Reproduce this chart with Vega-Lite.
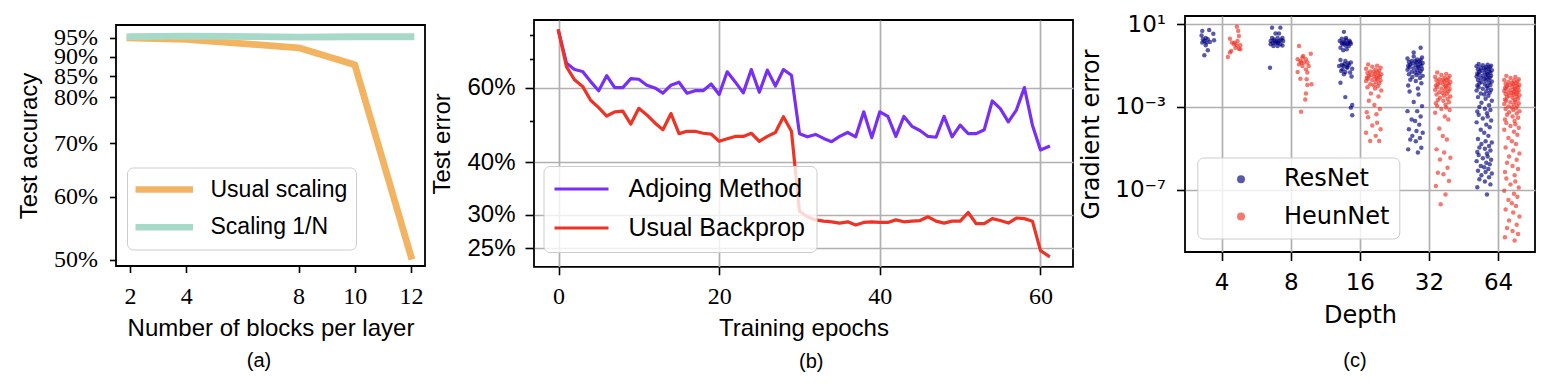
{
"$schema":"https://vega.github.io/schema/vega-lite/v6.json",
"background":"white",
"padding":{"left":16,"top":0,"right":0,"bottom":0},
"spacing":4,
"resolve":{"scale":{"color":"independent"},"legend":{"color":"independent"}},
"config":{
 "view":{"stroke":"black","strokeWidth":1.8},
 "axis":{"domain":false,"grid":false,"tickColor":"black","tickWidth":1.6,"labelColor":"black","titleColor":"black","titleFontWeight":"normal","labelFlush":false,"labelOverlap":false,"labelBound":false,"gridColor":"#b0b0b0","gridWidth":1.7}
},
"datasets":{
 "a_usual":[{"blocks":2,"acc":95.0},{"blocks":4,"acc":94.6},{"blocks":8,"acc":92.3},{"blocks":10,"acc":87.9},{"blocks":12,"acc":50.5}],
 "a_scaled":[{"blocks":2,"acc":95.3},{"blocks":4,"acc":95.5},{"blocks":8,"acc":95.2},{"blocks":10,"acc":95.3},{"blocks":12,"acc":95.3}],
 "b_adj":[{"epoch":0,"err":81.7},{"epoch":1,"err":68.5},{"epoch":2,"err":66.2},{"epoch":3,"err":65.5},{"epoch":4,"err":62},{"epoch":5,"err":59},{"epoch":6,"err":64},{"epoch":7,"err":60},{"epoch":8,"err":60},{"epoch":9,"err":63},{"epoch":10,"err":62.8},{"epoch":11,"err":60.8},{"epoch":12,"err":59.9},{"epoch":13,"err":58.2},{"epoch":14,"err":60.8},{"epoch":15,"err":61.8},{"epoch":16,"err":58.2},{"epoch":17,"err":59},{"epoch":18,"err":59},{"epoch":19,"err":61.2},{"epoch":20,"err":57.8},{"epoch":21,"err":65.4},{"epoch":22,"err":61.9},{"epoch":23,"err":58.3},{"epoch":24,"err":66.2},{"epoch":25,"err":58.5},{"epoch":26,"err":66},{"epoch":27,"err":60.5},{"epoch":28,"err":66.2},{"epoch":29,"err":64.2},{"epoch":30,"err":46.7},{"epoch":31,"err":45.9},{"epoch":32,"err":46.5},{"epoch":33,"err":45.5},{"epoch":34,"err":44.7},{"epoch":35,"err":46},{"epoch":36,"err":47},{"epoch":37,"err":45.9},{"epoch":38,"err":52.6},{"epoch":39,"err":45.7},{"epoch":40,"err":52.6},{"epoch":41,"err":51.3},{"epoch":42,"err":46},{"epoch":43,"err":51.3},{"epoch":44,"err":48.6},{"epoch":45,"err":47.5},{"epoch":46,"err":46},{"epoch":47,"err":45.8},{"epoch":48,"err":51.3},{"epoch":49,"err":45.9},{"epoch":50,"err":48.9},{"epoch":51,"err":46.7},{"epoch":52,"err":46.7},{"epoch":53,"err":47.7},{"epoch":54,"err":55.8},{"epoch":55,"err":53.5},{"epoch":56,"err":49.8},{"epoch":57,"err":53.1},{"epoch":58,"err":60},{"epoch":59,"err":48.9},{"epoch":60,"err":42.7},{"epoch":61,"err":43.5}],
 "b_bp":[{"epoch":0,"err":81.7},{"epoch":1,"err":67.2},{"epoch":2,"err":62.6},{"epoch":3,"err":60.4},{"epoch":4,"err":56},{"epoch":5,"err":53.8},{"epoch":6,"err":51.4},{"epoch":7,"err":52.6},{"epoch":8,"err":52.8},{"epoch":9,"err":49.2},{"epoch":10,"err":53.6},{"epoch":11,"err":51.7},{"epoch":12,"err":49.5},{"epoch":13,"err":47.7},{"epoch":14,"err":52.1},{"epoch":15,"err":46.7},{"epoch":16,"err":47.3},{"epoch":17,"err":47.3},{"epoch":18,"err":46.8},{"epoch":19,"err":46.6},{"epoch":20,"err":44.8},{"epoch":21,"err":45.4},{"epoch":22,"err":46},{"epoch":23,"err":46},{"epoch":24,"err":46.8},{"epoch":25,"err":44.8},{"epoch":26,"err":46},{"epoch":27,"err":47},{"epoch":28,"err":51.2},{"epoch":29,"err":47.3},{"epoch":30,"err":30.6},{"epoch":31,"err":29.7},{"epoch":32,"err":29.2},{"epoch":33,"err":29.0},{"epoch":34,"err":28.9},{"epoch":35,"err":28.7},{"epoch":36,"err":28.9},{"epoch":37,"err":28.4},{"epoch":38,"err":28.8},{"epoch":39,"err":28.9},{"epoch":40,"err":28.8},{"epoch":41,"err":28.8},{"epoch":42,"err":29.2},{"epoch":43,"err":28.9},{"epoch":44,"err":29.0},{"epoch":45,"err":29.1},{"epoch":46,"err":29.7},{"epoch":47,"err":29.0},{"epoch":48,"err":28.7},{"epoch":49,"err":29.0},{"epoch":50,"err":29.0},{"epoch":51,"err":30.4},{"epoch":52,"err":28.6},{"epoch":53,"err":28.6},{"epoch":54,"err":29.4},{"epoch":55,"err":29.1},{"epoch":56,"err":28.7},{"epoch":57,"err":29.5},{"epoch":58,"err":29.4},{"epoch":59,"err":29.0},{"epoch":60,"err":24.7},{"epoch":61,"err":24.0}],
 "c_res":[
{"depth":4,"pos":1.72,"err":4.8},{"depth":4,"pos":1.82,"err":5.3},{"depth":4,"pos":1.88,"err":3.5},{"depth":4,"pos":1.71,"err":2.9},{"depth":4,"pos":1.77,"err":2.2},{"depth":4,"pos":1.73,"err":1.9},{"depth":4,"pos":1.8,"err":1.9},{"depth":4,"pos":1.89,"err":1.7},{"depth":4,"pos":1.72,"err":1.3},{"depth":4,"pos":1.78,"err":1.3},{"depth":4,"pos":1.83,"err":1.4},{"depth":4,"pos":1.77,"err":0.96},{"depth":4,"pos":1.8,"err":0.55},{"depth":4,"pos":1.75,"err":0.32},{"depth":4,"pos":1.75,"err":1.55},
{"depth":8,"pos":2.73,"err":6.9},{"depth":8,"pos":2.85,"err":6.9},{"depth":8,"pos":2.78,"err":3.6},{"depth":8,"pos":2.83,"err":3.6},{"depth":8,"pos":2.73,"err":2.2},{"depth":8,"pos":2.81,"err":2.2},{"depth":8,"pos":2.88,"err":2.2},{"depth":8,"pos":2.71,"err":1.55},{"depth":8,"pos":2.77,"err":1.55},{"depth":8,"pos":2.83,"err":1.55},{"depth":8,"pos":2.89,"err":1.55},{"depth":8,"pos":2.71,"err":1.07},{"depth":8,"pos":2.78,"err":1.2},{"depth":8,"pos":2.85,"err":1.07},{"depth":8,"pos":2.81,"err":0.89},{"depth":8,"pos":2.75,"err":0.89},{"depth":8,"pos":2.88,"err":0.95},{"depth":8,"pos":2.7,"err":0.079},{"depth":8,"pos":2.76,"err":1.86},{"depth":8,"pos":2.82,"err":1.29},{"depth":8,"pos":2.8,"err":1.4},{"depth":8,"pos":2.86,"err":1.8},{"depth":8,"pos":2.74,"err":1.3},
{"depth":16,"pos":3.77,"err":4.3},{"depth":16,"pos":3.71,"err":1.55},{"depth":16,"pos":3.77,"err":1.41},{"depth":16,"pos":3.83,"err":1.29},{"depth":16,"pos":3.87,"err":1.15},{"depth":16,"pos":3.75,"err":1.07},{"depth":16,"pos":3.79,"err":0.95},{"depth":16,"pos":3.84,"err":0.89},{"depth":16,"pos":3.72,"err":0.74},{"depth":16,"pos":3.81,"err":0.62},{"depth":16,"pos":3.76,"err":0.55},{"depth":16,"pos":3.72,"err":0.186},{"depth":16,"pos":3.79,"err":0.17},{"depth":16,"pos":3.87,"err":0.141},{"depth":16,"pos":3.7,"err":0.095},{"depth":16,"pos":3.76,"err":0.095},{"depth":16,"pos":3.82,"err":0.079},{"depth":16,"pos":3.89,"err":0.071},{"depth":16,"pos":3.73,"err":0.055},{"depth":16,"pos":3.79,"err":0.049},{"depth":16,"pos":3.86,"err":0.046},{"depth":16,"pos":3.77,"err":0.038},{"depth":16,"pos":3.88,"err":0.03},{"depth":16,"pos":3.72,"err":0.015},{"depth":16,"pos":3.79,"err":0.003},{"depth":16,"pos":3.89,"err":0.00126},{"depth":16,"pos":3.87,"err":0.00093},{"depth":16,"pos":3.89,"err":0.0004},{"depth":16,"pos":3.75,"err":0.066},{"depth":16,"pos":3.84,"err":0.105},{"depth":16,"pos":3.74,"err":2.0},{"depth":16,"pos":3.8,"err":1.8},{"depth":16,"pos":3.85,"err":1.6},{"depth":16,"pos":3.78,"err":1.2},{"depth":16,"pos":3.82,"err":1.1},{"depth":16,"pos":3.74,"err":1.25},{"depth":16,"pos":3.86,"err":1.35},{"depth":16,"pos":3.8,"err":2.2},{"depth":16,"pos":3.78,"err":0.12},{"depth":16,"pos":3.83,"err":0.13},{"depth":16,"pos":3.74,"err":0.11},{"depth":16,"pos":3.81,"err":0.085},
{"depth":32,"pos":4.88,"err":0.74},{"depth":32,"pos":4.78,"err":0.43},{"depth":32,"pos":4.78,"err":0.28},{"depth":32,"pos":4.9,"err":0.25},{"depth":32,"pos":4.69,"err":0.22},{"depth":32,"pos":4.83,"err":0.2},{"depth":32,"pos":4.88,"err":0.19},{"depth":32,"pos":4.75,"err":0.17},{"depth":32,"pos":4.8,"err":0.166},{"depth":32,"pos":4.86,"err":0.158},{"depth":32,"pos":4.71,"err":0.151},{"depth":32,"pos":4.82,"err":0.141},{"depth":32,"pos":4.91,"err":0.135},{"depth":32,"pos":4.76,"err":0.126},{"depth":32,"pos":4.87,"err":0.12},{"depth":32,"pos":4.73,"err":0.112},{"depth":32,"pos":4.81,"err":0.107},{"depth":32,"pos":4.89,"err":0.1},{"depth":32,"pos":4.7,"err":0.095},{"depth":32,"pos":4.84,"err":0.089},
{"depth":32,"pos":4.72,"err":0.083},{"depth":32,"pos":4.85,"err":0.079},{"depth":32,"pos":4.78,"err":0.074},{"depth":32,"pos":4.9,"err":0.069},{"depth":32,"pos":4.69,"err":0.063},{"depth":32,"pos":4.83,"err":0.059},{"depth":32,"pos":4.88,"err":0.054},{"depth":32,"pos":4.75,"err":0.05},{"depth":32,"pos":4.8,"err":0.046},{"depth":32,"pos":4.86,"err":0.042},{"depth":32,"pos":4.71,"err":0.038},{"depth":32,"pos":4.82,"err":0.035},{"depth":32,"pos":4.91,"err":0.032},{"depth":32,"pos":4.76,"err":0.028},{"depth":32,"pos":4.87,"err":0.025},{"depth":32,"pos":4.73,"err":0.021},{"depth":32,"pos":4.81,"err":0.018},{"depth":32,"pos":4.89,"err":0.014},{"depth":32,"pos":4.7,"err":0.011},{"depth":32,"pos":4.84,"err":0.0079},
{"depth":32,"pos":4.72,"err":0.0056},{"depth":32,"pos":4.85,"err":0.004},{"depth":32,"pos":4.78,"err":0.00174},{"depth":32,"pos":4.9,"err":0.0011},{"depth":32,"pos":4.69,"err":0.00063},{"depth":32,"pos":4.83,"err":0.00063},{"depth":32,"pos":4.88,"err":0.00035},{"depth":32,"pos":4.75,"err":0.00025},{"depth":32,"pos":4.8,"err":0.00021},{"depth":32,"pos":4.86,"err":0.00014},{"depth":32,"pos":4.71,"err":8.3e-5},{"depth":32,"pos":4.82,"err":6.9e-5},{"depth":32,"pos":4.91,"err":5.6e-5},{"depth":32,"pos":4.76,"err":4e-5},{"depth":32,"pos":4.87,"err":3.2e-5},{"depth":32,"pos":4.73,"err":2.7e-5},{"depth":32,"pos":4.81,"err":2.2e-5},{"depth":32,"pos":4.89,"err":1.07e-5},{"depth":32,"pos":4.7,"err":8.9e-6},{"depth":32,"pos":4.84,"err":6.3e-6},
{"depth":64,"pos":5.72,"err":0.12},{"depth":64,"pos":5.85,"err":0.112},{"depth":64,"pos":5.78,"err":0.105},{"depth":64,"pos":5.9,"err":0.1},{"depth":64,"pos":5.69,"err":0.093},{"depth":64,"pos":5.83,"err":0.087},{"depth":64,"pos":5.88,"err":0.083},{"depth":64,"pos":5.75,"err":0.079},{"depth":64,"pos":5.8,"err":0.074},{"depth":64,"pos":5.86,"err":0.071},{"depth":64,"pos":5.71,"err":0.066},{"depth":64,"pos":5.82,"err":0.063},{"depth":64,"pos":5.91,"err":0.06},{"depth":64,"pos":5.76,"err":0.056},{"depth":64,"pos":5.87,"err":0.052},{"depth":64,"pos":5.73,"err":0.05},{"depth":64,"pos":5.81,"err":0.047},{"depth":64,"pos":5.89,"err":0.045},{"depth":64,"pos":5.7,"err":0.042},{"depth":64,"pos":5.84,"err":0.04},
{"depth":64,"pos":5.72,"err":0.037},{"depth":64,"pos":5.85,"err":0.035},{"depth":64,"pos":5.78,"err":0.033},{"depth":64,"pos":5.9,"err":0.032},{"depth":64,"pos":5.69,"err":0.03},{"depth":64,"pos":5.83,"err":0.028},{"depth":64,"pos":5.88,"err":0.026},{"depth":64,"pos":5.75,"err":0.025},{"depth":64,"pos":5.8,"err":0.023},{"depth":64,"pos":5.86,"err":0.022},{"depth":64,"pos":5.71,"err":0.02},{"depth":64,"pos":5.82,"err":0.019},{"depth":64,"pos":5.91,"err":0.017},{"depth":64,"pos":5.76,"err":0.016},{"depth":64,"pos":5.87,"err":0.015},{"depth":64,"pos":5.73,"err":0.014},{"depth":64,"pos":5.81,"err":0.0126},{"depth":64,"pos":5.89,"err":0.0117},{"depth":64,"pos":5.7,"err":0.011},{"depth":64,"pos":5.84,"err":0.01},
{"depth":64,"pos":5.72,"err":0.0091},{"depth":64,"pos":5.85,"err":0.0083},{"depth":64,"pos":5.78,"err":0.0076},{"depth":64,"pos":5.9,"err":0.0069},{"depth":64,"pos":5.69,"err":0.0063},{"depth":64,"pos":5.83,"err":0.0056},{"depth":64,"pos":5.88,"err":0.005},{"depth":64,"pos":5.75,"err":0.0045},{"depth":64,"pos":5.8,"err":0.004},{"depth":64,"pos":5.86,"err":0.0035},{"depth":64,"pos":5.71,"err":0.003},{"depth":64,"pos":5.82,"err":0.0025},{"depth":64,"pos":5.91,"err":0.002},{"depth":64,"pos":5.76,"err":0.0016},{"depth":64,"pos":5.87,"err":0.0012},{"depth":64,"pos":5.73,"err":0.001},{"depth":64,"pos":5.81,"err":0.00083},{"depth":64,"pos":5.89,"err":0.00071},{"depth":64,"pos":5.7,"err":0.0006},{"depth":64,"pos":5.84,"err":0.0005},
{"depth":64,"pos":5.72,"err":0.00042},{"depth":64,"pos":5.85,"err":0.00035},{"depth":64,"pos":5.78,"err":0.00028},{"depth":64,"pos":5.9,"err":0.00022},{"depth":64,"pos":5.69,"err":0.00018},{"depth":64,"pos":5.83,"err":0.00014},{"depth":64,"pos":5.88,"err":0.000105},{"depth":64,"pos":5.75,"err":7.9e-5},{"depth":64,"pos":5.8,"err":5.6e-5},{"depth":64,"pos":5.86,"err":4e-5},{"depth":64,"pos":5.71,"err":2.8e-5},{"depth":64,"pos":5.82,"err":2.2e-5},{"depth":64,"pos":5.91,"err":1.9e-5},{"depth":64,"pos":5.76,"err":1.6e-5},{"depth":64,"pos":5.87,"err":1.3e-5},{"depth":64,"pos":5.73,"err":1.1e-5},{"depth":64,"pos":5.81,"err":9.5e-6},{"depth":64,"pos":5.89,"err":7.9e-6},{"depth":64,"pos":5.7,"err":6.6e-6},{"depth":64,"pos":5.84,"err":5.6e-6},
{"depth":64,"pos":5.72,"err":4.8e-6},{"depth":64,"pos":5.85,"err":4e-6},{"depth":64,"pos":5.78,"err":3.3e-6},{"depth":64,"pos":5.9,"err":2.8e-6},{"depth":64,"pos":5.69,"err":2.4e-6},{"depth":64,"pos":5.83,"err":2e-6},{"depth":64,"pos":5.88,"err":1.7e-6},{"depth":64,"pos":5.75,"err":1.4e-6},{"depth":64,"pos":5.8,"err":1.2e-6},{"depth":64,"pos":5.86,"err":1e-6},{"depth":64,"pos":5.71,"err":8.3e-7},{"depth":64,"pos":5.82,"err":7.1e-7},{"depth":64,"pos":5.91,"err":6e-7},{"depth":64,"pos":5.76,"err":5e-7},{"depth":64,"pos":5.87,"err":4e-7},{"depth":64,"pos":5.73,"err":3.2e-7},{"depth":64,"pos":5.81,"err":2.5e-7},{"depth":64,"pos":5.89,"err":1.8e-7},{"depth":64,"pos":5.7,"err":1.3e-7},{"depth":64,"pos":5.84,"err":5.9e-8}
 ],
 "c_heun":[
{"depth":4,"pos":2.22,"err":7.7},{"depth":4,"pos":2.24,"err":4.8},{"depth":4,"pos":2.12,"err":2.0},{"depth":4,"pos":2.25,"err":2.7},{"depth":4,"pos":2.15,"err":1.3},{"depth":4,"pos":2.18,"err":1.07},{"depth":4,"pos":2.22,"err":0.96},{"depth":4,"pos":2.27,"err":0.96},{"depth":4,"pos":2.2,"err":0.74},{"depth":4,"pos":2.25,"err":0.66},{"depth":4,"pos":2.27,"err":0.62},{"depth":4,"pos":2.14,"err":0.51},{"depth":4,"pos":2.09,"err":0.26},{"depth":4,"pos":2.12,"err":0.43},{"depth":4,"pos":2.23,"err":1.55},{"depth":4,"pos":2.19,"err":1.3},
{"depth":8,"pos":3.12,"err":0.89},{"depth":8,"pos":3.29,"err":0.38},{"depth":8,"pos":3.17,"err":0.245},{"depth":8,"pos":3.1,"err":0.204},{"depth":8,"pos":3.22,"err":0.204},{"depth":8,"pos":3.14,"err":0.17},{"depth":8,"pos":3.19,"err":0.141},{"depth":8,"pos":3.24,"err":0.141},{"depth":8,"pos":3.12,"err":0.115},{"depth":8,"pos":3.17,"err":0.095},{"depth":8,"pos":3.26,"err":0.095},{"depth":8,"pos":3.22,"err":0.066},{"depth":8,"pos":3.1,"err":0.049},{"depth":8,"pos":3.24,"err":0.046},{"depth":8,"pos":3.14,"err":0.023},{"depth":8,"pos":3.23,"err":0.022},{"depth":8,"pos":3.3,"err":0.0126},{"depth":8,"pos":3.24,"err":0.0115},{"depth":8,"pos":3.22,"err":0.0045},{"depth":8,"pos":3.21,"err":0.0023},{"depth":8,"pos":3.15,"err":0.00059},{"depth":8,"pos":3.18,"err":0.295},{"depth":8,"pos":3.15,"err":0.141},
{"depth":16,"pos":4.12,"err":0.115},{"depth":16,"pos":4.25,"err":0.1},{"depth":16,"pos":4.18,"err":0.089},{"depth":16,"pos":4.3,"err":0.079},{"depth":16,"pos":4.09,"err":0.071},{"depth":16,"pos":4.23,"err":0.063},{"depth":16,"pos":4.28,"err":0.056},{"depth":16,"pos":4.15,"err":0.052},{"depth":16,"pos":4.2,"err":0.05},{"depth":16,"pos":4.26,"err":0.047},{"depth":16,"pos":4.11,"err":0.044},{"depth":16,"pos":4.22,"err":0.04},{"depth":16,"pos":4.31,"err":0.038},{"depth":16,"pos":4.16,"err":0.035},{"depth":16,"pos":4.27,"err":0.033},{"depth":16,"pos":4.13,"err":0.032},{"depth":16,"pos":4.21,"err":0.03},{"depth":16,"pos":4.29,"err":0.028},{"depth":16,"pos":4.1,"err":0.026},{"depth":16,"pos":4.24,"err":0.025},
{"depth":16,"pos":4.12,"err":0.023},{"depth":16,"pos":4.25,"err":0.022},{"depth":16,"pos":4.18,"err":0.02},{"depth":16,"pos":4.3,"err":0.019},{"depth":16,"pos":4.09,"err":0.018},{"depth":16,"pos":4.23,"err":0.016},{"depth":16,"pos":4.28,"err":0.014},{"depth":16,"pos":4.15,"err":0.0126},{"depth":16,"pos":4.2,"err":0.0112},{"depth":16,"pos":4.26,"err":0.01},{"depth":16,"pos":4.11,"err":0.0089},{"depth":16,"pos":4.22,"err":0.0079},{"depth":16,"pos":4.31,"err":0.0063},{"depth":16,"pos":4.16,"err":0.0045},{"depth":16,"pos":4.27,"err":0.0032},{"depth":16,"pos":4.13,"err":0.002},{"depth":16,"pos":4.21,"err":0.00126},{"depth":16,"pos":4.29,"err":0.00079},{"depth":16,"pos":4.1,"err":0.00056},{"depth":16,"pos":4.24,"err":0.00045},
{"depth":16,"pos":4.12,"err":0.00032},{"depth":16,"pos":4.25,"err":0.000174},{"depth":16,"pos":4.18,"err":0.000126},{"depth":16,"pos":4.3,"err":8.3e-5},{"depth":16,"pos":4.09,"err":5.6e-5},{"depth":16,"pos":4.23,"err":4e-5},{"depth":16,"pos":4.15,"err":2.24e-5},{"depth":16,"pos":4.28,"err":2.24e-5},
{"depth":32,"pos":5.12,"err":0.046},{"depth":32,"pos":5.25,"err":0.04},{"depth":32,"pos":5.18,"err":0.035},{"depth":32,"pos":5.3,"err":0.032},{"depth":32,"pos":5.09,"err":0.028},{"depth":32,"pos":5.23,"err":0.026},{"depth":32,"pos":5.28,"err":0.024},{"depth":32,"pos":5.15,"err":0.022},{"depth":32,"pos":5.2,"err":0.021},{"depth":32,"pos":5.26,"err":0.02},{"depth":32,"pos":5.11,"err":0.019},{"depth":32,"pos":5.22,"err":0.017},{"depth":32,"pos":5.31,"err":0.016},{"depth":32,"pos":5.16,"err":0.015},{"depth":32,"pos":5.27,"err":0.014},{"depth":32,"pos":5.13,"err":0.013},{"depth":32,"pos":5.21,"err":0.0126},{"depth":32,"pos":5.29,"err":0.0117},{"depth":32,"pos":5.1,"err":0.011},{"depth":32,"pos":5.24,"err":0.01},
{"depth":32,"pos":5.12,"err":0.0093},{"depth":32,"pos":5.25,"err":0.0087},{"depth":32,"pos":5.18,"err":0.0079},{"depth":32,"pos":5.3,"err":0.0074},{"depth":32,"pos":5.09,"err":0.0069},{"depth":32,"pos":5.23,"err":0.0063},{"depth":32,"pos":5.28,"err":0.0058},{"depth":32,"pos":5.15,"err":0.0052},{"depth":32,"pos":5.2,"err":0.0048},{"depth":32,"pos":5.26,"err":0.0044},{"depth":32,"pos":5.11,"err":0.004},{"depth":32,"pos":5.22,"err":0.0035},{"depth":32,"pos":5.31,"err":0.0032},{"depth":32,"pos":5.16,"err":0.0028},{"depth":32,"pos":5.27,"err":0.0025},{"depth":32,"pos":5.13,"err":0.0022},{"depth":32,"pos":5.21,"err":0.002},{"depth":32,"pos":5.29,"err":0.0017},{"depth":32,"pos":5.1,"err":0.0015},{"depth":32,"pos":5.24,"err":0.0013},
{"depth":32,"pos":5.12,"err":0.0011},{"depth":32,"pos":5.25,"err":0.00095},{"depth":32,"pos":5.18,"err":0.00079},{"depth":32,"pos":5.3,"err":0.00071},{"depth":32,"pos":5.09,"err":0.00052},{"depth":32,"pos":5.23,"err":0.00035},{"depth":32,"pos":5.28,"err":0.00025},{"depth":32,"pos":5.15,"err":9.1e-5},{"depth":32,"pos":5.2,"err":3.9e-5},{"depth":32,"pos":5.26,"err":2.7e-5},{"depth":32,"pos":5.11,"err":8.9e-6},{"depth":32,"pos":5.22,"err":6.3e-6},{"depth":32,"pos":5.31,"err":3.5e-6},{"depth":32,"pos":5.16,"err":2.9e-6},{"depth":32,"pos":5.27,"err":1.15e-6},{"depth":32,"pos":5.13,"err":6.6e-7},{"depth":32,"pos":5.21,"err":5.5e-7},{"depth":32,"pos":5.29,"err":2.6e-7},{"depth":32,"pos":5.1,"err":1.5e-7},{"depth":32,"pos":5.24,"err":5.9e-8},{"depth":32,"pos":5.17,"err":1.95e-8},
{"depth":64,"pos":6.12,"err":0.032},{"depth":64,"pos":6.25,"err":0.028},{"depth":64,"pos":6.18,"err":0.025},{"depth":64,"pos":6.3,"err":0.022},{"depth":64,"pos":6.09,"err":0.02},{"depth":64,"pos":6.23,"err":0.019},{"depth":64,"pos":6.28,"err":0.017},{"depth":64,"pos":6.15,"err":0.016},{"depth":64,"pos":6.2,"err":0.015},{"depth":64,"pos":6.26,"err":0.014},{"depth":64,"pos":6.11,"err":0.013},{"depth":64,"pos":6.22,"err":0.0126},{"depth":64,"pos":6.31,"err":0.0117},{"depth":64,"pos":6.16,"err":0.0112},{"depth":64,"pos":6.27,"err":0.0105},{"depth":64,"pos":6.13,"err":0.01},{"depth":64,"pos":6.21,"err":0.0095},{"depth":64,"pos":6.29,"err":0.0089},{"depth":64,"pos":6.1,"err":0.0083},{"depth":64,"pos":6.24,"err":0.0079},
{"depth":64,"pos":6.12,"err":0.0076},{"depth":64,"pos":6.25,"err":0.0071},{"depth":64,"pos":6.18,"err":0.0066},{"depth":64,"pos":6.3,"err":0.0063},{"depth":64,"pos":6.09,"err":0.006},{"depth":64,"pos":6.23,"err":0.0056},{"depth":64,"pos":6.28,"err":0.0052},{"depth":64,"pos":6.15,"err":0.005},{"depth":64,"pos":6.2,"err":0.0047},{"depth":64,"pos":6.26,"err":0.0044},{"depth":64,"pos":6.11,"err":0.0042},{"depth":64,"pos":6.22,"err":0.004},{"depth":64,"pos":6.31,"err":0.0037},{"depth":64,"pos":6.16,"err":0.0035},{"depth":64,"pos":6.27,"err":0.0032},{"depth":64,"pos":6.13,"err":0.003},{"depth":64,"pos":6.21,"err":0.0028},{"depth":64,"pos":6.29,"err":0.0025},{"depth":64,"pos":6.1,"err":0.0023},{"depth":64,"pos":6.24,"err":0.0022},
{"depth":64,"pos":6.12,"err":0.002},{"depth":64,"pos":6.25,"err":0.0018},{"depth":64,"pos":6.18,"err":0.0017},{"depth":64,"pos":6.3,"err":0.0015},{"depth":64,"pos":6.09,"err":0.0014},{"depth":64,"pos":6.23,"err":0.0013},{"depth":64,"pos":6.28,"err":0.0011},{"depth":64,"pos":6.15,"err":0.00105},{"depth":64,"pos":6.2,"err":0.00095},{"depth":64,"pos":6.26,"err":0.00087},{"depth":64,"pos":6.11,"err":0.00079},{"depth":64,"pos":6.22,"err":0.00071},{"depth":64,"pos":6.31,"err":0.00063},{"depth":64,"pos":6.16,"err":0.00055},{"depth":64,"pos":6.27,"err":0.00048},{"depth":64,"pos":6.13,"err":0.00042},{"depth":64,"pos":6.21,"err":0.00035},{"depth":64,"pos":6.29,"err":0.0003},{"depth":64,"pos":6.1,"err":0.00025},{"depth":64,"pos":6.24,"err":0.00021},
{"depth":64,"pos":6.12,"err":0.00017},{"depth":64,"pos":6.25,"err":0.000145},{"depth":64,"pos":6.18,"err":0.00012},{"depth":64,"pos":6.3,"err":0.0001},{"depth":64,"pos":6.09,"err":7.9e-5},{"depth":64,"pos":6.23,"err":6.3e-5},{"depth":64,"pos":6.28,"err":4.5e-5},{"depth":64,"pos":6.15,"err":3.2e-5},{"depth":64,"pos":6.2,"err":2.2e-5},{"depth":64,"pos":6.26,"err":1.6e-5},{"depth":64,"pos":6.11,"err":1.1e-5},{"depth":64,"pos":6.22,"err":7.9e-6},{"depth":64,"pos":6.31,"err":5.6e-6},{"depth":64,"pos":6.16,"err":4e-6},{"depth":64,"pos":6.27,"err":2.8e-6},{"depth":64,"pos":6.13,"err":2e-6},{"depth":64,"pos":6.21,"err":1.4e-6},{"depth":64,"pos":6.29,"err":1e-6},{"depth":64,"pos":6.1,"err":7.1e-7},{"depth":64,"pos":6.24,"err":5e-7},
{"depth":64,"pos":6.12,"err":3.5e-7},{"depth":64,"pos":6.25,"err":2.5e-7},{"depth":64,"pos":6.18,"err":1.8e-7},{"depth":64,"pos":6.3,"err":1.26e-7},{"depth":64,"pos":6.09,"err":8.9e-8},{"depth":64,"pos":6.23,"err":6.3e-8},{"depth":64,"pos":6.28,"err":4.5e-8},{"depth":64,"pos":6.15,"err":3.2e-8},{"depth":64,"pos":6.2,"err":2.2e-8},{"depth":64,"pos":6.26,"err":1.6e-8},{"depth":64,"pos":6.11,"err":1.1e-8},{"depth":64,"pos":6.22,"err":7.9e-9},{"depth":64,"pos":6.31,"err":5e-9},{"depth":64,"pos":6.16,"err":3.2e-9},{"depth":64,"pos":6.27,"err":2e-9},{"depth":64,"pos":6.13,"err":1.4e-9},{"depth":64,"pos":6.21,"err":1e-9},{"depth":64,"pos":6.29,"err":7.1e-10},{"depth":64,"pos":6.1,"err":5e-10},{"depth":64,"pos":6.24,"err":3.5e-10}
 ]
},
"hconcat":[
 {"spacing":0,"vconcat":[
  {"width":1,"height":24,"data":{"values":[]},"mark":"point","view":{"stroke":null}},
  {"width":309,"height":241,
   "title":{"text":"(a)","orient":"bottom","frame":"group","anchor":"middle","dx":-11.5,"offset":11,"font":"Liberation Sans","fontSize":20,"fontWeight":"normal","color":"black"},
   "encoding":{
    "x":{"field":"blocks","type":"quantitative","scale":{"domain":[1.5,12.5],"nice":false,"zero":false},"axis":{"values":[2,4,8,10,12],"title":"Number of blocks per layer","labelFont":"Liberation Serif","labelFontSize":24,"tickSize":6.5,"labelPadding":11.8,"titleFont":"Liberation Sans","titleFontSize":24,"titlePadding":8}},
    "y":{"field":"acc","type":"quantitative","scale":{"type":"log","domain":[49.1,98.6],"nice":false},"axis":{"values":[50,60,70,80,85,90,95],"labelExpr":"datum.value + '%'","title":"Test accuracy","labelFont":"Liberation Serif","labelFontSize":24,"tickSize":6.5,"labelPadding":12,"titleFont":"Liberation Sans","titleFontSize":24,"titlePadding":12}}
   },
   "layer":[
    {"data":{"name":"a_usual"},"mark":{"type":"line","strokeWidth":6.8,"strokeCap":"square","strokeJoin":"round"},
     "encoding":{"color":{"datum":"Usual scaling","scale":{"domain":["Usual scaling","Scaling 1/N"],"range":["#f3b461","#a6d9c8"]},
      "legend":{"title":null,"orient":"none","legendX":11,"legendY":167.5,"symbolType":"stroke","symbolSize":3481,"symbolStrokeWidth":6.5,"clipHeight":27,"rowPadding":10.7,"padding":8.5,"symbolOffset":-5,"labelOffset":14,"labelFont":"Liberation Sans","labelFontSize":23,"labelLimit":400,"labelColor":"black","fillColor":"rgba(255,255,255,0.8)","strokeColor":"#cccccc","cornerRadius":6}}}},
    {"data":{"name":"a_scaled"},"mark":{"type":"line","strokeWidth":6.8,"strokeCap":"square","strokeJoin":"round"},
     "encoding":{"color":{"datum":"Scaling 1/N"}}}
   ]
  }
 ]},
 {"spacing":0,"vconcat":[
  {"width":1,"height":18.7,"data":{"values":[]},"mark":"point","view":{"stroke":null}},
  {"width":539,"height":246.8,
   "title":{"text":"(b)","orient":"bottom","frame":"group","anchor":"middle","dx":7.7,"offset":11,"font":"Liberation Sans","fontSize":20,"fontWeight":"normal","color":"black"},
   "encoding":{
    "x":{"field":"epoch","type":"quantitative","scale":{"domain":[-3.05,64.05],"nice":false,"zero":false},"axis":{"values":[0,20,40,60],"grid":true,"title":"Training epochs","labelFont":"Liberation Serif","labelFontSize":24,"tickSize":8,"labelPadding":9.3,"titleFont":"Liberation Sans","titleFontSize":24,"titlePadding":8.7}},
    "y":{"field":"err","type":"quantitative","scale":{"type":"log","domain":[22.62,86.7],"nice":false},"axis":{"values":[25,30,40,50,60,70,80],"labelExpr":"indexof([25,30,40,60], datum.value) >= 0 ? datum.value + '%' : ''","grid":true,"gridOpacity":{"condition":{"test":"indexof([50,70,80], datum.value) >= 0","value":0},"value":1},"tickSize":{"condition":{"test":"indexof([50,70,80], datum.value) >= 0","value":4.5},"value":9},"title":"Test error","labelFont":"Liberation Sans","labelFontSize":24,"labelPadding":10,"titleFont":"Liberation Sans","titleFontSize":24,"titlePadding":12}}
   },
   "layer":[
    {"data":{"name":"b_adj"},"mark":{"type":"line","strokeWidth":3.2,"strokeCap":"square","strokeJoin":"round"},
     "encoding":{"color":{"datum":"Adjoing Method","scale":{"domain":["Adjoing Method","Usual Backprop"],"range":["#772ff7","#ee3224"]},
      "legend":{"title":null,"orient":"none","legendX":9.5,"legendY":166,"symbolType":"stroke","symbolSize":3025,"symbolStrokeWidth":3.2,"clipHeight":24,"rowPadding":14,"padding":11,"symbolOffset":-3,"labelOffset":18,"labelFont":"Liberation Sans","labelFontSize":25,"labelLimit":400,"labelColor":"black","fillColor":"rgba(255,255,255,0.8)","strokeColor":"#cccccc","cornerRadius":6}}}},
    {"data":{"name":"b_bp"},"mark":{"type":"line","strokeWidth":3.2,"strokeCap":"square","strokeJoin":"round"},
     "encoding":{"color":{"datum":"Usual Backprop"}}}
   ]
  }
 ]},
 {"spacing":0,"vconcat":[
  {"width":1,"height":11.8,"data":{"values":[]},"mark":"point","view":{"stroke":null}},
  {"width":350,"height":236,
   "title":{"text":"(c)","orient":"bottom","frame":"group","anchor":"middle","dx":-5,"offset":23,"font":"Liberation Sans","fontSize":20,"fontWeight":"normal","color":"black"},
   "encoding":{
    "x":{"field":"pos","type":"quantitative","scale":{"domain":[1.47,6.535],"nice":false,"zero":false},"axis":{"values":[2,3,4,5,6],"labelExpr":"'' + pow(2, datum.value)","grid":true,"title":"Depth","labelFont":"DejaVu Sans","labelFontSize":23,"tickSize":8.5,"labelPadding":10.5,"titleFont":"DejaVu Sans","titleFontSize":24,"titlePadding":9.5}},
    "y":{"field":"err","type":"quantitative","scale":{"type":"log","domain":[9.64e-11,25.2],"nice":false},"axis":{"values":[10,0.001,1e-7],"labelExpr":"datum.value > 1 ? '10¹' : (datum.value > 1e-5 ? '10⁻³' : '10⁻⁷')","grid":true,"title":"Gradient error","labelFont":"DejaVu Sans","labelFontSize":23,"tickSize":8.5,"labelPadding":11,"titleFont":"DejaVu Sans","titleFontSize":24,"titlePadding":11}}
   },
   "layer":[
    {"data":{"name":"c_res"},"mark":{"type":"circle","size":20,"opacity":0.65},
     "encoding":{"color":{"datum":"ResNet","scale":{"domain":["ResNet","HeunNet"],"range":["#00007f","#ee3124"]},
      "legend":{"title":null,"orient":"none","legendX":12.3,"legendY":157.5,"symbolType":"circle","symbolSize":64,"symbolOpacity":1,"clipHeight":24,"rowPadding":13.3,"padding":9.7,"symbolOffset":22,"labelOffset":31,"labelFont":"DejaVu Sans","labelFontSize":24,"labelLimit":400,"labelColor":"black","fillColor":"rgba(255,255,255,0.8)","strokeColor":"#cccccc","cornerRadius":6}}}},
    {"data":{"name":"c_heun"},"mark":{"type":"circle","size":20,"opacity":0.65},
     "encoding":{"color":{"datum":"HeunNet"}}}
   ]
  }
 ]}
]
}
